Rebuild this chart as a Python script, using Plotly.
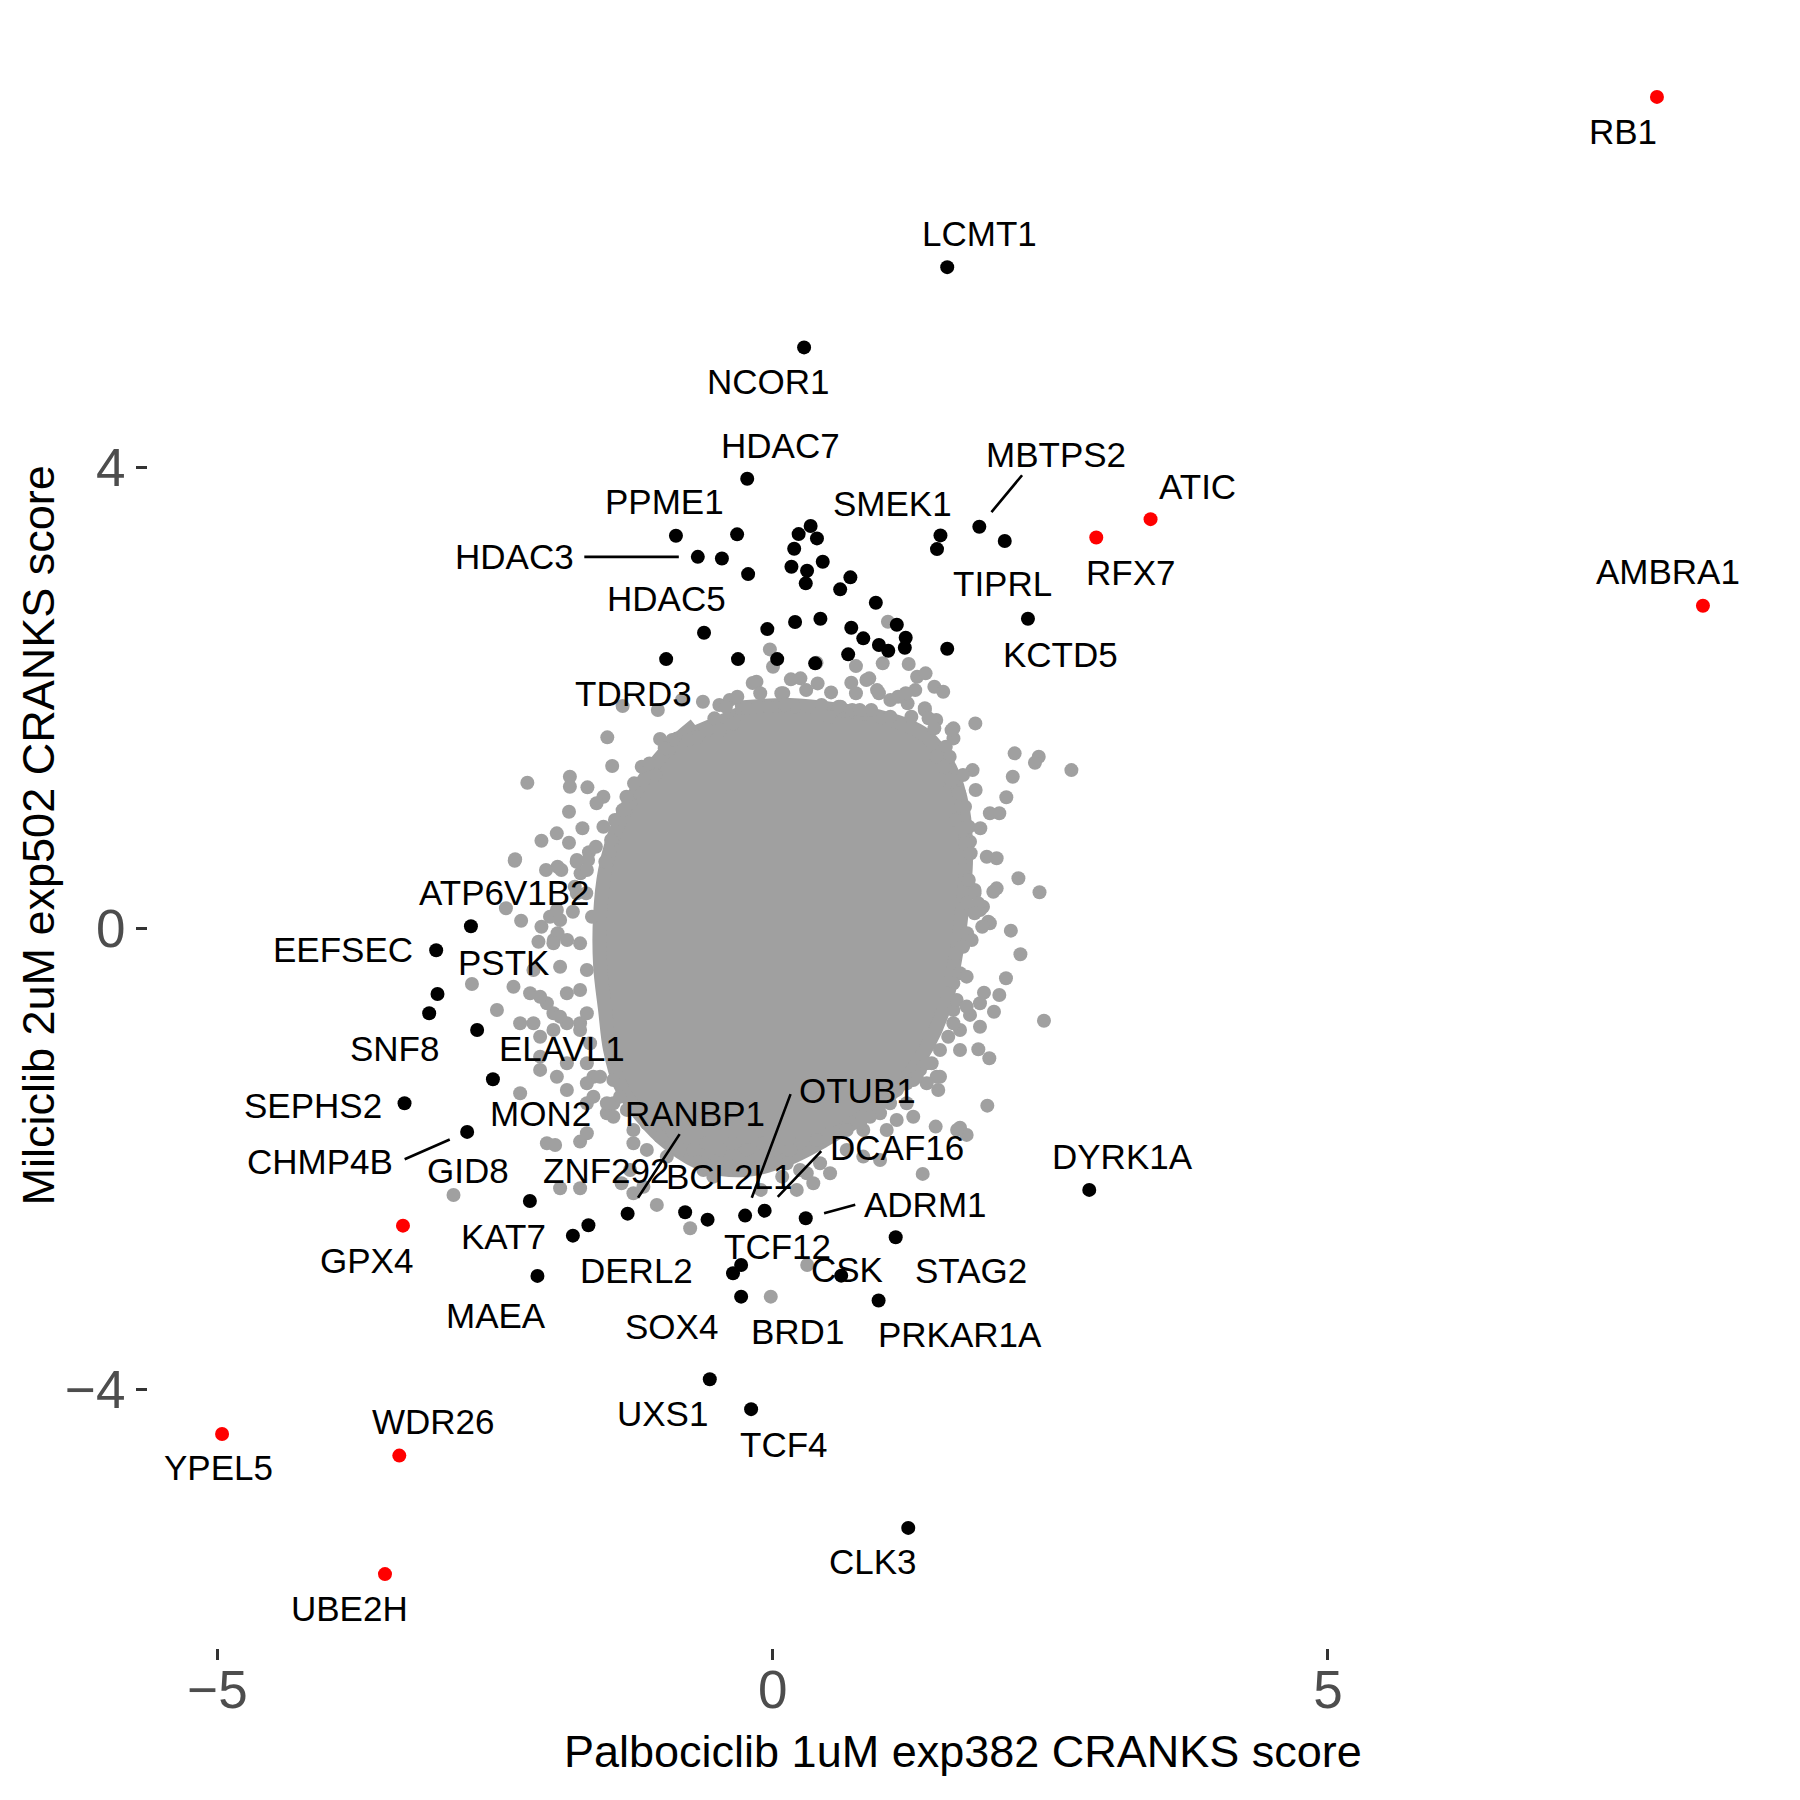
import plotly.graph_objects as go

# ---------------- data ----------------
# labelled hits (black)
hit_genes = ["LCMT1", "NCOR1", "HDAC7", "PPME1", "HDAC3", "HDAC5", "SMEK1", "MBTPS2",
             "TIPRL", "KCTD5", "TDRD3", "ATP6V1B2", "EEFSEC", "PSTK", "SNF8", "ELAVL1",
             "MON2", "SEPHS2", "CHMP4B", "GID8", "KAT7", "ZNF292", "MAEA", "RANBP1",
             "DERL2", "BCL2L1", "OTUB1", "DCAF16", "ADRM1", "TCF12", "SOX4", "BRD1",
             "CSK", "STAG2", "PRKAR1A", "UXS1", "TCF4", "CLK3", "DYRK1A"]
hit_x = [1.572, 0.283, -0.229, -0.871, -0.674, -0.457, 1.511, 1.861,
         2.090, 2.299, -0.959, -2.717, -3.030, -3.018, -3.093, -2.661,
         -2.519, -3.315, -2.751, -2.186, -1.799, -1.659, -2.118, -1.306,
         -0.788, -0.586, -0.248, -0.072, 0.298, -0.284, -0.357, -0.284,
         0.617, 1.108, 0.954, -0.566, -0.194, 1.221, 2.851]
hit_y = [5.739, 5.043, 3.903, 3.409, 3.226, 3.212, 3.412, 3.487,
         3.363, 2.689, 2.339, 0.021, -0.187, -0.566, -0.734, -0.879,
         -1.306, -1.514, -1.763, -2.362, -2.663, -2.572, -3.012, -2.472,
         -2.460, -2.524, -2.489, -2.446, -2.512, -2.917, -2.989, -3.192,
         -3.010, -2.677, -3.226, -3.908, -4.168, -5.198, -2.266]

# highlighted genes (red)
red_genes = ["RB1", "AMBRA1", "ATIC", "RFX7", "GPX4", "YPEL5", "WDR26", "UBE2H"]
red_x = [7.963, 8.377, 3.403, 2.914, -3.329, -4.958, -3.362, -3.491]
red_y = [7.216, 2.802, 3.553, 3.394, -2.576, -4.383, -4.571, -5.599]

# other significant genes (black, unlabelled)
blk_x = [-0.320, -0.221, 0.342, 0.234, 0.399, 0.194, 0.451, 0.169, 0.310, 0.298,
         0.700, 0.608, 0.929, 1.480, -0.618, -0.048, 0.202, 0.430, 0.708, 0.816,
         1.118, 1.198, 0.957, 1.041, 1.190, 1.572, 0.680, -0.312, 0.041, 0.383]
blk_y = [3.421, 3.076, 3.493, 3.423, 3.386, 3.296, 3.183, 3.140, 3.105, 2.996,
         3.048, 2.944, 2.827, 3.293, 2.567, 2.599, 2.660, 2.689, 2.611, 2.519,
         2.637, 2.524, 2.461, 2.411, 2.437, 2.428, 2.380, 2.339, 2.339, 2.302]

# background genes (grey): outline of the saturated, fully overlapping core
core_x = [-0.338, 0.157, 0.607, 1.012, 1.372, 1.597, 1.714, 1.741, 1.705, 1.642,
          1.552, 1.399, 1.147, 0.832, 0.472, 0.112, -0.248, -0.608, -0.923, -1.193,
          -1.373, -1.464, -1.509, -1.554, -1.554, -1.509, -1.392, -1.193, -0.968, -0.698]
core_y = [1.914, 1.940, 1.897, 1.827, 1.680, 1.394, 1.029, 0.596, 0.162, -0.271,
          -0.662, -1.009, -1.356, -1.616, -1.833, -2.006, -2.093, -2.050, -1.876, -1.616,
          -1.356, -1.052, -0.705, -0.315, 0.119, 0.509, 0.899, 1.246, 1.533, 1.767]

# background genes (grey): individually visible points
gry_x = [-0.025, 0.003, 0.395, -0.146, 0.164, 0.250, 0.405, 0.526, 0.708, 0.750,
         0.870, 0.750, 0.991, 0.940, 1.225, 1.301, 1.377, 1.284, 1.456, 1.536,
         1.215, 1.370, 1.473, 1.628, 1.825, 1.628, 2.179, 2.396, 2.362, 2.690,
         2.162, 1.800, 1.714, 1.828, 2.104, 2.041, 1.956, 1.870, 1.777, 1.928,
         2.017, 2.213, 2.403, 2.017, 1.818, 1.894, 2.145, 2.231, 1.956, 1.750,
         -0.628, -0.817, -1.034, -1.351, -1.489, -1.014, -0.862, -0.938, -1.445, -1.179,
         -1.059, -2.209, -1.826, -1.826, -1.668, -1.524, -1.586, -1.834, -1.283, -1.420,
         -1.713, -1.944, -2.082, -1.834, -1.654, -2.323, -1.937, -1.765, -1.507, -2.265,
         -2.082, -2.005, -2.109, -1.971, -1.851, -2.402, -1.799, -0.480, -0.387, -0.318,
         -0.232, -0.042, 0.095, 0.199, 0.612, 0.716, 0.888, 1.060, 1.129,
         -2.319, -1.763, -1.914, -2.708, -2.483, -2.274, -2.334, -2.184, -2.033, -1.974,
         -2.094, -1.853, -1.734, -2.094, -2.274, -1.943, -1.853, -1.614, -1.434, -1.673,
         -1.493, -1.434, -2.033, -1.959, -1.734, -1.673, -1.914, -1.734, -2.874, -1.254,
         -1.133, -1.284, -1.164, -1.254, -1.043, -0.743, -0.624, -0.534, -0.383,
         1.987, 1.777, 1.867, 1.942, 1.792, 1.687, 1.747, 2.101, 1.903, 2.041,
         1.867, 1.993, 1.627, 1.777, 2.443, 1.687, 1.852, 1.951, 1.581, 1.507,
         1.432, 1.477, 1.387, 1.491, 1.327, 1.266, 1.207, 1.933, 1.687, 1.747,
         1.117, 0.967, 0.816, 0.967, 0.816, 0.517, 1.351, 0.307, 0.217, 0.366,
         0.311, -0.017, 1.661, 1.468, -1.361, 0.086, -0.107, 1.038, 0.844,
         # fringe of the core
         -0.180, -0.112, 0.078, 0.113, 0.302, 0.440, 0.509, 0.595, 0.784, 0.957,
         1.060, 1.198, 1.249, 1.370, 1.404, 1.456, 1.611, 1.559, 1.594, -0.525,
         -0.421, -0.473, -0.353, -0.593, -0.680, -0.766, -0.834, -0.904, -0.972, -1.110,
         -1.248, -1.317, -1.351, -1.524, -1.455, -1.592, -1.662, -1.730, -1.679, -1.782,
         -1.627, -2.041, -1.903, -1.937,
         1.473, 1.543, 1.508, 1.611, 1.680, 1.732, 1.645, 1.715, 1.766, 1.732,
         1.783, 1.715, 1.766, 1.818, 1.749, 1.852, 1.818, 1.887, 1.715, 1.645,
         1.627, 1.567, 1.657, 1.747, 1.627, 1.387, 1.297, 1.207, 1.117, 1.057,
         0.877, 0.787, 0.667, 0.517, 0.397, 0.247, 0.157, 0.127, 0.247, 0.427,
         0.667, 1.027, 1.266, 1.507, 1.687, 1.867,
         -1.943, -1.763, -1.673, -1.974, -1.734, -2.154, -1.914, -1.673, -2.094, -1.853,
         -1.734, -1.914, -1.673, -2.154, -1.974, -1.734, -1.644, -2.094, -1.853, -1.673,
         -1.554, -1.673, -1.614, -1.493, -1.374, -1.434, -1.313, -1.254, -1.133, -1.014,
         -0.894, -0.953, -0.833, -0.714, -0.593, -0.473, -0.354, -0.233, -0.084]
gry_y = [2.423, 2.272, 2.307, 2.142, 2.163, 2.172, 2.128, 2.050, 2.134, 2.042,
         2.172, 2.278, 2.302, 2.070, 2.296, 2.186, 2.215, 2.070, 2.099, 2.055,
         1.955, 1.897, 1.810, 1.738, 1.781, 1.651, 1.521, 1.492, 1.440, 1.376,
         1.318, 1.376, 1.333, 1.203, 1.140, 1.001, 1.001, 0.871, 0.755, 0.624,
         0.611, 0.437, 0.316, 0.350, 0.336, 0.191, -0.017, -0.222, 0.047, -0.040,
         1.969, 1.984, 1.897, 1.931, 1.660, 1.645, 1.651, 1.550, 1.411, 1.405,
         1.333, 1.266, 1.318, 1.232, 1.226, 1.145, 1.088, 1.015, 1.088, 0.943,
         0.871, 0.827, 0.763, 0.746, 0.663, 0.590, 0.538, 0.581, 0.581, 0.069,
         0.017, 0.104, -0.113, -0.098, -0.098, 0.177, 0.147, 1.940, 1.984, 2.012,
         1.912, 1.925, 2.042, 1.925, 1.925, 1.897, 1.897, 1.839, 2.012,
         0.602, 0.596, 0.075, -0.480, -0.705, -0.820, -0.503, -0.560, -0.647, -0.734,
         -0.937, -0.820, -0.820, -1.225, -1.428, -1.284, -1.399, -1.284, -1.312, -1.514,
         -1.601, -1.514, -1.861, -1.876, -1.847, -1.775, -2.251, -2.251, -2.310, -1.861,
         -1.919, -2.093, -2.238, -2.295, -2.396, -2.598, -2.093, -2.151, -2.064,
         0.321, 0.321, 0.162, 0.061, -0.098, -0.387, -0.416, -0.430, -0.555, -0.575,
         -0.647, -0.720, -0.705, -0.748, -0.798, -0.879, -1.046, -1.124, -0.937, -1.052,
         -1.167, -1.284, -1.341, -1.399, -1.225, -1.312, -1.514, -1.535, -1.726, -1.789,
         -1.659, -1.601, -1.746, -2.006, -1.977, -2.121, -2.127, -2.121, -2.266, -2.208,
         -2.917, -3.192, -1.746, -1.717, -2.208, -2.151, -2.266, 2.663, 2.157,
         # fringe of the core
         2.131, 2.042, 2.042, 1.940, 2.070, 1.940, 1.839, 1.925, 1.897, 2.042,
         1.984, 2.042, 1.839, 1.912, 1.825, 1.738, 1.723, 1.578, 1.492, 1.825,
         1.925, 1.723, 1.781, 1.723, 1.665, 1.637, 1.578, 1.637, 1.565, 1.434,
         1.261, 1.145, 1.029, 0.885, 0.769, 0.711, 0.596, 0.480, 0.307, 0.364,
         0.104, 0.509, 0.509, -0.040,
         1.492, 1.405, 1.290, 1.290, 1.174, 1.058, 0.943, 0.856, 0.885, 0.741,
         0.654, 0.509, 0.422, 0.307, 0.220, 0.220, 0.134, 0.017, -0.156, -0.213,
         -0.474, -0.560, -0.618, -0.676, -0.820, -1.167, -1.284, -1.341, -1.399, -1.514,
         -1.631, -1.688, -1.746, -1.775, -1.833, -1.861, -1.919, -2.035, -2.093, -2.035,
         -1.919, -1.746, -1.631, -1.284, -1.052, -0.850,
         0.162, 0.307, 0.509, -0.127, -0.127, -0.358, -0.330, -0.358, -0.590, -0.560,
         -0.532, -0.763, -0.734, -0.820, -0.879, -0.879, -0.994, -1.110, -1.167, -1.167,
         -1.284, -1.341, -1.457, -1.514, -1.457, -1.631, -1.572, -1.746, -1.688, -1.804,
         -1.861, -1.977, -1.919, -1.919, -1.861, -1.919, -1.861, -1.919, -1.861]

x_ticks = [-5, 0, 5]
y_ticks = [-4, 0, 4]
x_title = "Palbociclib 1uM exp382 CRANKS score"
y_title = "Milciclib 2uM exp502 CRANKS score"

# ---------------- label placement ----------------
# (label dx, label dy) in pixels from the point; optional segment far end (dx, dy)
label_offsets = {
    "LCMT1": (32, -34, None), "NCOR1": (-36, 34, None), "HDAC7": (33, -33, None),
    "PPME1": (-11, -34, None), "HDAC3": (-183, 0, (-115, 0)), "HDAC5": (-55, 40, None),
    "SMEK1": (-48, -32, None), "MBTPS2": (77, -72, (44, -53)), "TIPRL": (-2, 42, None),
    "KCTD5": (33, 36, None), "TDRD3": (-33, 34, None), "ATP6V1B2": (34, -34, None),
    "EEFSEC": (-93, -1, None), "PSTK": (66, -31, None), "SNF8": (-35, 35, None),
    "ELAVL1": (85, 18, None), "MON2": (48, 34, None), "SEPHS2": (-92, 2, None),
    "CHMP4B": (-147, 30, (-64, 28)), "GID8": (-62, -30, None), "KAT7": (-69, 1, None),
    "ZNF292": (18, -55, None), "MAEA": (-41, 40, None), "RANBP1": (67, -100, (53, -81)),
    "DERL2": (-49, 58, None), "BCL2L1": (21, -43, None), "OTUB1": (112, -125, (46, -123)),
    "DCAF16": (132, -63, (58, -61)), "ADRM1": (120, -14, (51, -14)), "TCF12": (36, -18, None),
    "SOX4": (-62, 53, None), "BRD1": (56, 35, None), "CSK": (6, -6, None),
    "STAG2": (75, 33, None), "PRKAR1A": (81, 34, None), "UXS1": (-47, 34, None),
    "TCF4": (33, 35, None), "CLK3": (-35, 34, None), "DYRK1A": (33, -33, None),
    "RB1": (-34, 35, None), "AMBRA1": (-35, -34, None), "ATIC": (47, -33, None),
    "RFX7": (34, 35, None), "GPX4": (-36, 35, None), "YPEL5": (-4, 34, None),
    "WDR26": (34, -34, None), "UBE2H": (-35, 34, None),
}

FONT = "Liberation Sans, Arial, sans-serif"
GREY = "#A0A0A0"
MS = 14

fig = go.Figure()
fig.add_trace(go.Scatter(x=core_x, y=core_y, mode="lines", fill="toself",
                         fillcolor=GREY, line=dict(color=GREY, width=MS, shape="spline"),
                         hoverinfo="skip", showlegend=False))
fig.add_trace(go.Scatter(x=gry_x, y=gry_y, mode="markers",
                         marker=dict(color=GREY, size=MS, line=dict(width=0)),
                         showlegend=False))
fig.add_trace(go.Scatter(x=blk_x + hit_x, y=blk_y + hit_y, mode="markers",
                         marker=dict(color="black", size=MS, line=dict(width=0)),
                         showlegend=False))
fig.add_trace(go.Scatter(x=red_x, y=red_y, mode="markers",
                         marker=dict(color="#FF0000", size=MS, line=dict(width=0)),
                         showlegend=False))

annotations = []
for names, xs, ys in ((hit_genes, hit_x, hit_y), (red_genes, red_x, red_y)):
    for name, x, y in zip(names, xs, ys):
        dx, dy, seg = label_offsets[name]
        annotations.append(dict(x=x, y=y, text=name, showarrow=False,
                                xshift=dx, yshift=-dy, xanchor="center", yanchor="middle",
                                font=dict(family=FONT, size=35, color="black")))
        if seg is not None:
            annotations.append(dict(x=x, y=y, text="", showarrow=True,
                                    ax=seg[0], ay=seg[1], arrowhead=0, arrowwidth=2.6,
                                    arrowcolor="black", standoff=19))

annotations.append(dict(xref="paper", yref="paper", x=0.5, y=0, text=x_title, showarrow=False,
                        xanchor="center", yanchor="middle", yshift=-103,
                        font=dict(family=FONT, size=45, color="black")))
annotations.append(dict(xref="paper", yref="paper", x=0, y=0.5, text=y_title, showarrow=False,
                        xanchor="center", yanchor="middle", xshift=-110, textangle=-90,
                        font=dict(family=FONT, size=45, color="black")))

axis_common = dict(showgrid=False, zeroline=False, showline=False, ticks="outside",
                   ticklen=11, tickwidth=2.5, tickcolor="#333333",
                   tickfont=dict(family=FONT, size=53, color="#4D4D4D"))

fig.update_layout(
    width=1792, height=1792,
    margin=dict(l=140, r=23, t=15, b=152),
    paper_bgcolor="white", plot_bgcolor="white",
    xaxis=dict(range=[-5.625, 9.044], tickvals=x_ticks, ticklabelstandoff=-16, **axis_common),
    yaxis=dict(range=[-6.24, 7.857], tickvals=y_ticks, **axis_common),
    annotations=annotations,
    showlegend=False,
)

fig.write_html("out.html")
